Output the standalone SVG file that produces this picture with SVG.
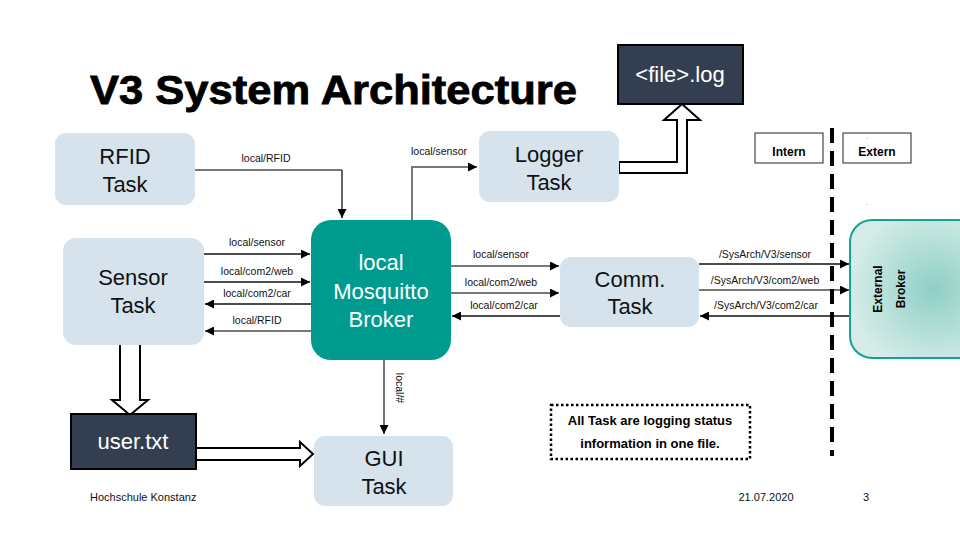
<svg xmlns="http://www.w3.org/2000/svg" width="960" height="540" viewBox="0 0 960 540">
<defs>
<style>
text{font-family:"Liberation Sans",Arial,sans-serif}
.box{fill:#D6E3EC}
.big{font-size:22px;text-anchor:middle;fill:#111}
.wt{font-size:22px;text-anchor:middle;fill:#fff}
.lbl{font-size:10.5px;text-anchor:middle;fill:#111}
.ln{fill:none;stroke:#111;stroke-width:1.3}
.lg{fill:none;stroke:#777;stroke-width:2}
.blk{fill:#fff;stroke:#000;stroke-width:2;stroke-linejoin:miter}
.dark{fill:#333F50;stroke:#000;stroke-width:2}
.bold{font-size:12px;font-weight:bold;text-anchor:middle;fill:#000}
.ft{font-size:11px;fill:#111}
</style>
<marker id="ah" viewBox="0 0 10 10" refX="10" refY="5" markerWidth="9" markerHeight="9" markerUnits="userSpaceOnUse" orient="auto"><path d="M0,0L10,5L0,10z" fill="#000"/></marker>
<radialGradient id="eg" cx="0.6" cy="0.5" r="0.6"><stop offset="0" stop-color="#8ECFC5"/><stop offset="1" stop-color="#D5ECE8"/></radialGradient>
</defs>
<rect width="960" height="540" fill="#fff"/>
<text x="90" y="104" style="font-size:40px;font-weight:bold" fill="#000" stroke="#000" stroke-width="0.8" textLength="487" lengthAdjust="spacingAndGlyphs">V3 System Architecture</text>

<g id="connectors">
<path class="lg" d="M195,170 H342" />
<path class="ln" d="M342,170 V218" marker-end="url(#ah)"/>
<text class="lbl" x="266" y="162">local/RFID</text>
<path class="lg" d="M412,220 V167 H477" marker-end="url(#ah)"/>
<text class="lbl" x="439" y="155">local/sensor</text>

<path class="ln" d="M204,254 H310" marker-end="url(#ah)"/>
<text class="lbl" x="257" y="246">local/sensor</text>
<path class="ln" d="M204,282 H310" marker-end="url(#ah)"/>
<text class="lbl" x="257" y="275">local/com2/web</text>
<path class="ln" d="M311,304 H205" marker-end="url(#ah)"/>
<text class="lbl" x="257" y="297">local/com2/car</text>
<path class="lg" d="M311,331 H205" marker-end="url(#ah)"/>
<text class="lbl" x="257" y="324">local/RFID</text>

<path class="lg" d="M451,266 H559" marker-end="url(#ah)"/>
<text class="lbl" x="501" y="258">local/sensor</text>
<path class="lg" d="M451,293 H559" marker-end="url(#ah)"/>
<text class="lbl" x="501" y="286">local/com2/web</text>
<path class="ln" d="M560,316 H452" marker-end="url(#ah)"/>
<text class="lbl" x="504" y="309">local/com2/car</text>

<path class="ln" d="M699,264 H849" marker-end="url(#ah)"/>
<text class="lbl" x="765" y="258">/SysArch/V3/sensor</text>
<path class="lg" d="M699,290 H849" marker-end="url(#ah)"/>
<text class="lbl" x="765" y="284">/SysArch/V3/com2/web</text>
<path class="ln" d="M850,316 H700" marker-end="url(#ah)"/>
<text class="lbl" x="766" y="309">/SysArch/V3/com2/car</text>

<path class="lg" d="M384,360 V434" marker-end="url(#ah)"/>
<text class="lbl" x="396" y="388" transform="rotate(90 396 388)">local/#</text>

<polygon class="blk" points="120,344 140,344 140,400 148,400 130,415 112,400 120,400"/>
<polygon class="blk" points="196,448 300,448 300,442 313,454 300,466 300,460 196,460"/>
<polygon class="blk" points="619,162 677,162 677,120 664,120 682,104 700,120 687,120 687,173 619,173"/>
</g>

<g id="rfid"><rect class="box" x="55" y="133" width="140" height="72" rx="11"/>
<text class="big" x="125" y="164">RFID</text><text class="big" x="125" y="192">Task</text></g>
<g id="sensor"><rect class="box" x="63" y="238" width="141" height="107" rx="13"/>
<text class="big" x="133" y="285">Sensor</text><text class="big" x="133" y="313">Task</text></g>
<g id="broker"><rect x="311" y="220" width="140" height="140" rx="20" fill="#009B8F"/>
<text class="wt" x="381" y="270">local</text><text class="wt" x="381" y="299">Mosquitto</text><text class="wt" x="381" y="327">Broker</text></g>
<g id="logger"><rect class="box" x="479" y="131" width="140" height="71" rx="11"/>
<text class="big" x="549" y="162">Logger</text><text class="big" x="549" y="190">Task</text></g>
<g id="filelog"><rect class="dark" x="618" y="45" width="125" height="59"/>
<text class="wt" x="680" y="82">&lt;file&gt;.log</text></g>
<g id="comm"><rect class="box" x="560" y="257" width="139" height="70" rx="11"/>
<text class="big" x="630" y="287">Comm.</text><text class="big" x="630" y="314">Task</text></g>
<g id="gui"><rect class="box" x="314" y="436" width="139" height="70" rx="11"/>
<text class="big" x="384" y="466">GUI</text><text class="big" x="384" y="494">Task</text></g>
<g id="usertxt"><rect class="dark" x="71" y="414" width="125" height="55"/>
<text class="wt" x="133" y="449">user.txt</text></g>
<g id="external"><rect x="850" y="220" width="140" height="138" rx="22" fill="url(#eg)" stroke="#17A096" stroke-width="2"/>
<text class="bold" x="882" y="289" transform="rotate(-90 882 289)">External</text>
<text class="bold" x="905" y="289" transform="rotate(-90 905 289)">Broker</text></g>

<g id="intern"><rect x="755" y="133" width="68" height="30" fill="#fff" stroke="#222" stroke-width="1"/>
<text class="bold" x="789" y="156">Intern</text></g>
<g id="extern"><rect x="843" y="133" width="68" height="30" fill="#fff" stroke="#222" stroke-width="1"/>
<text class="bold" x="877" y="156">Extern</text>
<text x="867" y="139" style="font-size:6px" text-anchor="middle">.</text>
<text x="867" y="205" style="font-size:6px" text-anchor="middle">.</text></g>
<line x1="832" y1="128" x2="832" y2="456" stroke="#000" stroke-width="4" stroke-dasharray="15,8"/>

<g id="note"><rect x="551" y="405" width="199" height="54" fill="#fff" stroke="#000" stroke-width="2.5" stroke-dasharray="2.5,2.5"/>
<text class="bold" x="650" y="425" style="font-size:13px">All Task are logging status</text>
<text class="bold" x="650" y="448" style="font-size:13px">information in one file.</text></g>

<text class="ft" x="90" y="501">Hochschule Konstanz</text>
<text class="ft" x="766" y="501" text-anchor="middle">21.07.2020</text>
<text class="ft" x="866" y="501" text-anchor="middle">3</text>
</svg>
